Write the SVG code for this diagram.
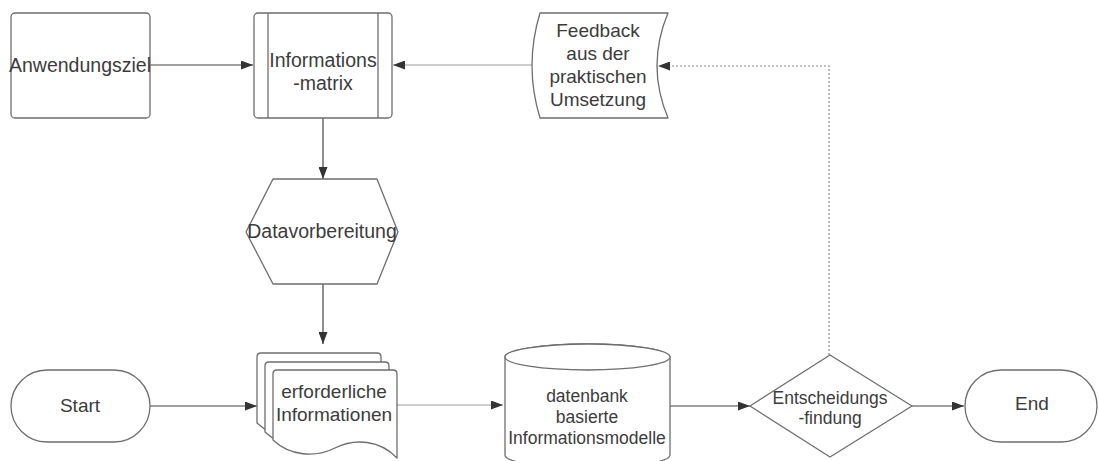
<svg xmlns="http://www.w3.org/2000/svg" width="1099" height="461" viewBox="0 0 1099 461">
<style>
.shape{fill:#fff;stroke:#6e6e6e;stroke-width:1.3;stroke-linejoin:round}
.t{font-family:"Liberation Sans",Arial,sans-serif;font-size:19px;fill:#3c3c3c;text-anchor:middle}
.b{font-size:19.5px}
.s{font-size:17.5px}
.line{fill:none;stroke:#444;stroke-width:1.2}
.light{fill:none;stroke:#9a9a9a;stroke-width:1}
.dot{fill:none;stroke:#8a8a8a;stroke-width:1.2;stroke-dasharray:2 2}
</style>
<defs>
<marker id="ah" markerUnits="userSpaceOnUse" markerWidth="13" markerHeight="9" refX="12" refY="4.5" orient="auto">
<path d="M0,0 L12,4.5 L0,9 Z" fill="#333"/>
</marker>
<path id="doc" d="M273,374 Q273,370 277,370 L393,370 Q397,370 397,374 L397,458 C380,440 355,438 335,448 C315,458 290,456 273,440 Z"/>
</defs>
<rect width="1099" height="461" fill="#fff"/>

<g id="connectors">
<line class="line" x1="150" y1="65" x2="253" y2="65" marker-end="url(#ah)"/>
<line class="light" x1="532" y1="65" x2="393" y2="65" marker-end="url(#ah)"/>
<line class="line" x1="323" y1="118" x2="323" y2="179" marker-end="url(#ah)"/>
<line class="line" x1="323" y1="284" x2="323" y2="344" marker-end="url(#ah)"/>
<line class="line" x1="150" y1="406" x2="257" y2="406" marker-end="url(#ah)"/>
<line class="light" x1="397" y1="405" x2="503" y2="405" marker-end="url(#ah)"/>
<line class="line" x1="670" y1="406" x2="750" y2="406" marker-end="url(#ah)"/>
<line class="line" x1="912" y1="406" x2="964" y2="406" marker-end="url(#ah)"/>
<polyline class="dot" points="829,355 829,66 658,66" marker-end="url(#ah)"/>
</g>

<g id="anwendungsziel">
<rect class="shape" x="11" y="13" width="139" height="105" rx="4"/>
<text class="t b" x="80" y="72">Anwendungsziel</text>
</g>

<g id="informationsmatrix">
<rect class="shape" x="254" y="13" width="138" height="105" rx="4"/>
<line class="shape" x1="268" y1="13" x2="268" y2="118"/>
<line class="shape" x1="378" y1="13" x2="378" y2="118"/>
<text class="t b" x="323" y="67">Informations</text>
<text class="t b" x="323" y="90">-matrix</text>
</g>

<g id="feedback">
<path class="shape" d="M540,13 L668,13 Q646,65.5 668,118 L540,118 Q524,65.5 540,13 Z"/>
<text class="t" x="598" y="37">Feedback</text>
<text class="t" x="598" y="60">aus der</text>
<text class="t" x="598" y="83">praktischen</text>
<text class="t" x="598" y="106">Umsetzung</text>
</g>

<g id="datavorbereitung">
<polygon class="shape" points="273,179 377,179 398,232 377,284 273,284 246,232"/>
<text class="t b" x="322" y="238">Datavorbereitung</text>
</g>

<g id="start">
<rect class="shape" x="11" y="370" width="139" height="72" rx="36"/>
<text class="t" x="80" y="412">Start</text>
</g>

<g id="erforderliche-informationen">
<use href="#doc" class="shape" transform="translate(-16,-17)"/>
<use href="#doc" class="shape" transform="translate(-8,-8)"/>
<use href="#doc" class="shape"/>
<text class="t" x="334" y="398">erforderliche</text>
<text class="t" x="334" y="421">Informationen</text>
</g>

<g id="datenbank">
<path class="shape" d="M505,357 L505,455 A82.5,13 0 0 0 670,455 L670,357 A82.5,13 0 0 0 505,357 Z"/>
<ellipse class="shape" cx="587.5" cy="357" rx="82.5" ry="13"/>
<text class="t s" x="587" y="402">datenbank</text>
<text class="t s" x="587" y="423">basierte</text>
<text class="t s" x="587" y="444">Informationsmodelle</text>
</g>

<g id="entscheidungsfindung">
<polygon class="shape" points="750,406 830,355 912,406 830,457"/>
<text class="t s" x="830" y="404">Entscheidungs</text>
<text class="t s" x="830" y="424">-findung</text>
</g>

<g id="end">
<rect class="shape" x="965" y="370" width="132" height="72" rx="36"/>
<text class="t" x="1032" y="410">End</text>
</g>
</svg>
